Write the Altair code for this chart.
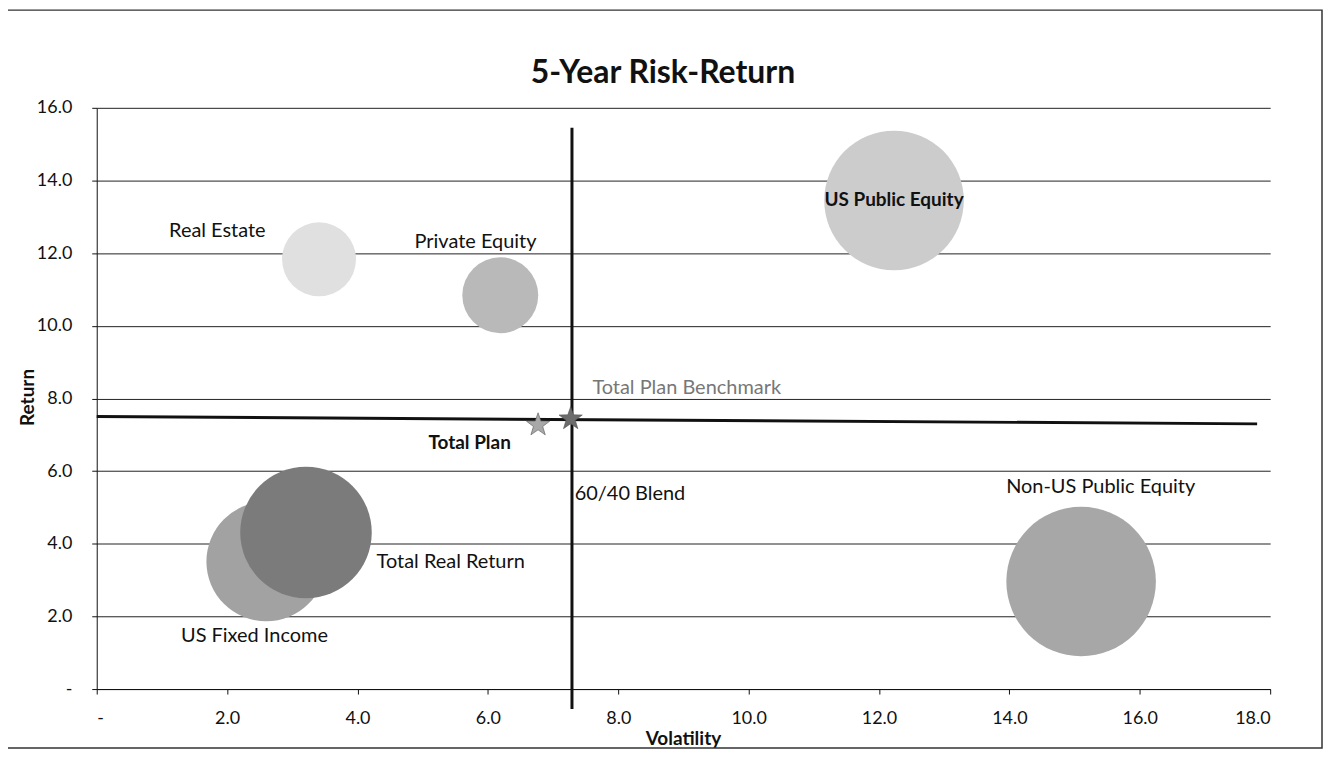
import altair as alt
import pandas as pd

# ---- data ----
assets = ["US Public Equity", "Non-US Public Equity", "Real Estate",
          "Private Equity", "US Fixed Income", "Total Real Return"]
volatility = [12.23, 15.10, 3.41, 6.19, 2.60, 3.21]
returns = [13.45, 2.96, 11.83, 10.84, 3.51, 4.31]
weights = [19.6, 22.5, 5.5, 5.8, 14.4, 17.4]
bubble_colors = ["#cccccc", "#a7a7a7", "#e0e0e0", "#b9b9b9", "#a2a2a2", "#7b7b7b"]

star_names = ["Total Plan", "Total Plan Benchmark"]
star_vol = [6.77, 7.27]
star_ret = [7.27, 7.44]
star_colors = ["#a8a8a8", "#6c6c6c"]

# 60/40 blend crosshair
cross_x = [7.29, 0.0]
cross_x2 = [7.29, 17.8]
cross_y = [15.45, 7.50]
cross_y2 = [-0.55, 7.30]

label_text = ["Real Estate", "Private Equity", "60/40 Blend",
              "Non-US Public Equity", "Total Real Return", "US Fixed Income"]
label_x = [1.85, 5.81, 8.18, 15.40, 5.43, 2.42]
label_y = [12.60, 12.30, 5.38, 5.57, 3.51, 1.45]

bold_text = ["US Public Equity", "Total Plan"]
bold_x = [12.23, 5.72]
bold_y = [13.45, 6.78]

gray_text = ["Total Plan Benchmark"]
gray_x = [9.05]
gray_y = [8.29]

title_text = ["5-Year Risk-Return"]

x_ticks = [0, 2, 4, 6, 8, 10, 12, 14, 16, 18]
y_ticks = [0, 2, 4, 6, 8, 10, 12, 14, 16]

FONT = "Lato"
LABEL_SIZE = 20
STAR = ("M0,-1L0.235,-0.324L0.951,-0.309L0.38,0.124L0.588,0.809L0,0.4"
        "L-0.588,0.809L-0.38,0.124L-0.951,-0.309L-0.235,-0.324Z")

bubbles = pd.DataFrame({"asset": assets, "vol": volatility, "ret": returns,
                        "weight": weights, "idx": list(range(len(assets)))})
stars = pd.DataFrame({"name": star_names, "vol": star_vol, "ret": star_ret})
cross = pd.DataFrame({"vol": cross_x, "x2": cross_x2, "ret": cross_y, "y2": cross_y2})
labels = pd.DataFrame({"t": label_text, "vol": label_x, "ret": label_y})
blabels = pd.DataFrame({"t": bold_text, "vol": bold_x, "ret": bold_y})
glabels = pd.DataFrame({"t": gray_text, "vol": gray_x, "ret": gray_y})
titles = pd.DataFrame({"t": title_text})
frame = pd.DataFrame({"k": [0]})

xs = alt.Scale(domain=[0, 18], nice=False, zero=False)
ys = alt.Scale(domain=[0, 16], nice=False, zero=False)
lab = "datum.value == 0 ? '-' : format(datum.value, '.1f')"

x_axis = alt.Axis(values=x_ticks, labelExpr=lab, grid=False, tickSize=5,
                  labelPadding=16, labelFontSize=18, labelFont=FONT,
                  labelColor="#111", domainColor="#111", tickColor="#111",
                  title="Volatility", titleFont=FONT, titleFontSize=19,
                  titleFontWeight="bold", titleColor="#111",
                  titleX=588, titleY=50, titleAlign="center",
                  titleBaseline="middle")
y_axis = alt.Axis(values=y_ticks, labelExpr=lab, grid=True, gridColor="#222",
                  gridWidth=1, tickSize=5, labelPadding=20, labelFontSize=18,
                  labelFont=FONT, labelColor="#111", domainColor="#111",
                  tickColor="#111", title="Return", titleFont=FONT,
                  titleFontSize=19, titleFontWeight="bold", titleColor="#111",
                  titleX=-69, titleY=290, titleAngle=270, titleAlign="center",
                  titleBaseline="middle")


def X():
    return alt.X("vol:Q", scale=xs, axis=x_axis, title="Volatility")


def Y():
    return alt.Y("ret:Q", scale=ys, axis=y_axis, title="Return")


bubble_layer = alt.Chart(bubbles).mark_circle(opacity=1).encode(
    x=X(), y=Y(),
    size=alt.Size("weight:Q", scale=alt.Scale(domain=[0, 22.5], range=[0, 22500]),
                  legend=None),
    color=alt.Color("asset:N", scale=alt.Scale(domain=assets, range=bubble_colors),
                    legend=None),
    order=alt.Order("idx:Q"),
)

cross_layer = alt.Chart(cross).mark_rule(color="#111", strokeWidth=3, clip=False).encode(
    x=X(), x2="x2:Q", y=Y(), y2="y2:Q",
)

star_layer = alt.Chart(stars).mark_point(shape=STAR, filled=True, size=600,
                                         opacity=1, stroke="#555",
                                         strokeWidth=0.6).encode(
    x=X(), y=Y(),
    fill=alt.Fill("name:N", scale=alt.Scale(domain=star_names, range=star_colors),
                  legend=None),
)

text_layer = alt.Chart(labels).mark_text(font=FONT, fontSize=LABEL_SIZE, color="#111",
                                         align="center", baseline="middle").encode(
    x=X(), y=Y(), text="t:N",
)
bold_layer = alt.Chart(blabels).mark_text(font=FONT, fontSize=19,
                                          fontWeight="bold", color="#111",
                                          align="center", baseline="middle").encode(
    x=X(), y=Y(), text="t:N",
)
gray_layer = alt.Chart(glabels).mark_text(font=FONT, fontSize=LABEL_SIZE, color="#777",
                                          align="center", baseline="middle").encode(
    x=X(), y=Y(), text="t:N",
)

title_layer = alt.Chart(titles).mark_text(font=FONT, fontSize=32, fontWeight="bold",
                                          color="#111", align="center",
                                          baseline="middle").encode(
    x=alt.value(568), y=alt.value(-35), text="t:N",
)

frame_layer = alt.Chart(frame).mark_rect(fillOpacity=0, stroke="#333",
                                          strokeWidth=1.5, clip=False).encode(
    x=alt.value(-90), x2=alt.value(1229), y=alt.value(-98), y2=alt.value(642),
)

chart = alt.layer(
    bubble_layer, cross_layer, star_layer, text_layer, bold_layer, gray_layer,
    title_layer, frame_layer,
).properties(
    width=1177, height=583,
    background="white",
    autosize=alt.AutoSizeParams(type="none"),
    padding={"left": 89, "top": 99, "right": 54, "bottom": 61},
).configure_view(stroke=None)

chart.save("out.html", embed_options={"renderer": "svg", "actions": False})
